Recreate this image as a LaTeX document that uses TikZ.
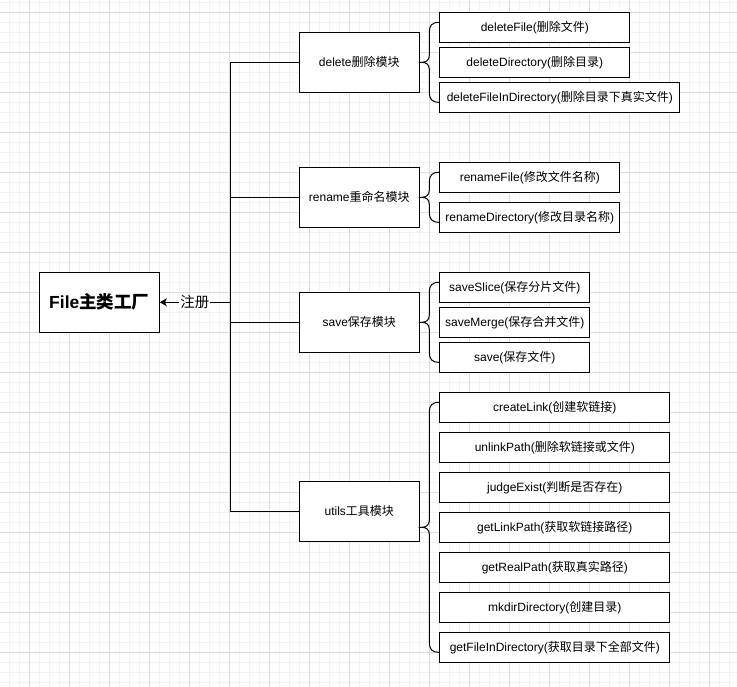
\documentclass[tikz,border=0pt]{standalone}
\usepackage{fontspec}
\setmainfont{Liberation Sans}
\newfontfamily\zhfont{Noto Sans CJK SC}
\newcommand{\zh}[1]{{\zhfont #1}}
\usetikzlibrary{arrows.meta}
\definecolor{gridmajor}{HTML}{DCDCDC}
\definecolor{gridminor}{HTML}{F3F3F3}
\newcommand{\bracketpath}[3]{%
  \draw[conn] (439.3,#1) .. controls (432,#1) and (429.3,{#1+3}) .. (429.3,{#1+10})
    -- (429.3,{#3-7}) .. controls (429.3,{#3-2}) and (426,#3) .. (421.7,#3)
    .. controls (426,#3) and (429.3,{#3+2}) .. (429.3,{#3+7})
    -- (429.3,{#2-10}) .. controls (429.3,{#2-3}) and (432,#2) .. (439.3,#2);}
\begin{document}
\begin{tikzpicture}[x=1pt,y=-1pt,
  box/.style={draw=black, line width=1pt, fill=white, inner sep=0pt,
    minimum height=30pt, font=\fontsize{12}{14}\selectfont},
  module/.style={box, minimum width=120pt, minimum height=60pt},
  leaf/.style={box, anchor=west, minimum width=#1},
  conn/.style={draw=black, line width=1pt},
  minorline/.style={draw=gridminor, line width=0.8pt},
  majorline/.style={draw=gridmajor, line width=0.8pt}]
\useasboundingbox (0,0) rectangle (737,687);
\fill[white] (0,0) rectangle (737,687);
% grid
\foreach \i in {0,...,72} {\draw[minorline] ({9.3+10*\i},0) -- ({9.3+10*\i},687);}
\foreach \i in {0,...,68} {\draw[minorline] (0,{2.7+10*\i}) -- (737,{2.7+10*\i});}
\foreach \i in {0,...,17} {\draw[majorline] ({29.3+40*\i},0) -- ({29.3+40*\i},687);}
\foreach \i in {0,...,16} {\draw[majorline] (0,{12.7+40*\i}) -- (737,{12.7+40*\i});}

% main node
\node[box, minimum width=120pt, minimum height=60pt,
  font=\fontsize{17.5}{20}\selectfont\bfseries] (main) at (99.3,302.3) {File\zh{主类工厂}};

% modules
\node[module] (delete) at (359.3,62.3) {delete\zh{删除模块}};
\node[module] (rename) at (359.3,197.3) {rename\zh{重命名模块}};
\node[module] (save) at (359.3,322.3) {save\zh{保存模块}};
\node[module] (utils) at (359.3,511.3) {utils\zh{工具模块}};

% trunk
\coordinate (tr) at (230,302.3);
\draw[conn] (delete.west) -- (delete.west -| tr) -- (utils.west -| tr) -- (utils.west);
\draw[conn] (rename.west) -- (rename.west -| tr);
\draw[conn] (save.west) -- (save.west -| tr);
\draw[conn, -{Stealth[length=7pt,width=8pt,inset=1.8pt]}] (tr) --
  node[fill=white, inner sep=1pt, font=\zhfont\fontsize{14.5}{16}\selectfont] {注册} (main.east);

% delete leaves
\node[leaf=190pt] (d1) at (439.3,27.3) {deleteFile(\zh{删除文件})};
\node[leaf=190pt] (d2) at (439.3,62.3) {deleteDirectory(\zh{删除目录})};
\node[leaf=240pt] (d3) at (439.3,97.3) {deleteFileInDirectory(\zh{删除目录下真实文件})};
% rename leaves
\node[leaf=180pt] (r1) at (439.3,177.3) {renameFile(\zh{修改文件名称})};
\node[leaf=180pt] (r2) at (439.3,217.3) {renameDirectory(\zh{修改目录名称})};
% save leaves
\node[leaf=150pt] (s1) at (439.3,287.3) {saveSlice(\zh{保存分片文件})};
\node[leaf=150pt] (s2) at (439.3,322.3) {saveMerge(\zh{保存合并文件})};
\node[leaf=150pt] (s3) at (439.3,357.3) {save(\zh{保存文件})};
% utils leaves
\node[leaf=230pt] (u1) at (439.3,407.3) {createLink(\zh{创建软链接})};
\node[leaf=230pt] (u2) at (439.3,447.3) {unlinkPath(\zh{删除软链接或文件})};
\node[leaf=230pt] (u3) at (439.3,487.3) {judgeExist(\zh{判断是否存在})};
\node[leaf=230pt] (u4) at (439.3,527.3) {getLinkPath(\zh{获取软链接路径})};
\node[leaf=230pt] (u5) at (439.3,567.3) {getRealPath(\zh{获取真实路径})};
\node[leaf=230pt] (u6) at (439.3,607.3) {mkdirDirectory(\zh{创建目录})};
\node[leaf=230pt] (u7) at (439.3,647.3) {getFileInDirectory(\zh{获取目录下全部文件})};

% brackets
\bracketpath{22.3}{102.3}{62.3}
\draw[conn] (delete.east) -- (421.7,62.3);
\bracketpath{172.3}{222.3}{197.3}
\draw[conn] (rename.east) -- (421.7,197.3);
\bracketpath{282.3}{362.3}{322.3}
\draw[conn] (save.east) -- (421.7,322.3);
\bracketpath{402.3}{652.3}{527.3}
\draw[conn] (utils.east |- u4.west) -- (421.7,527.3);
\end{tikzpicture}
\end{document}
